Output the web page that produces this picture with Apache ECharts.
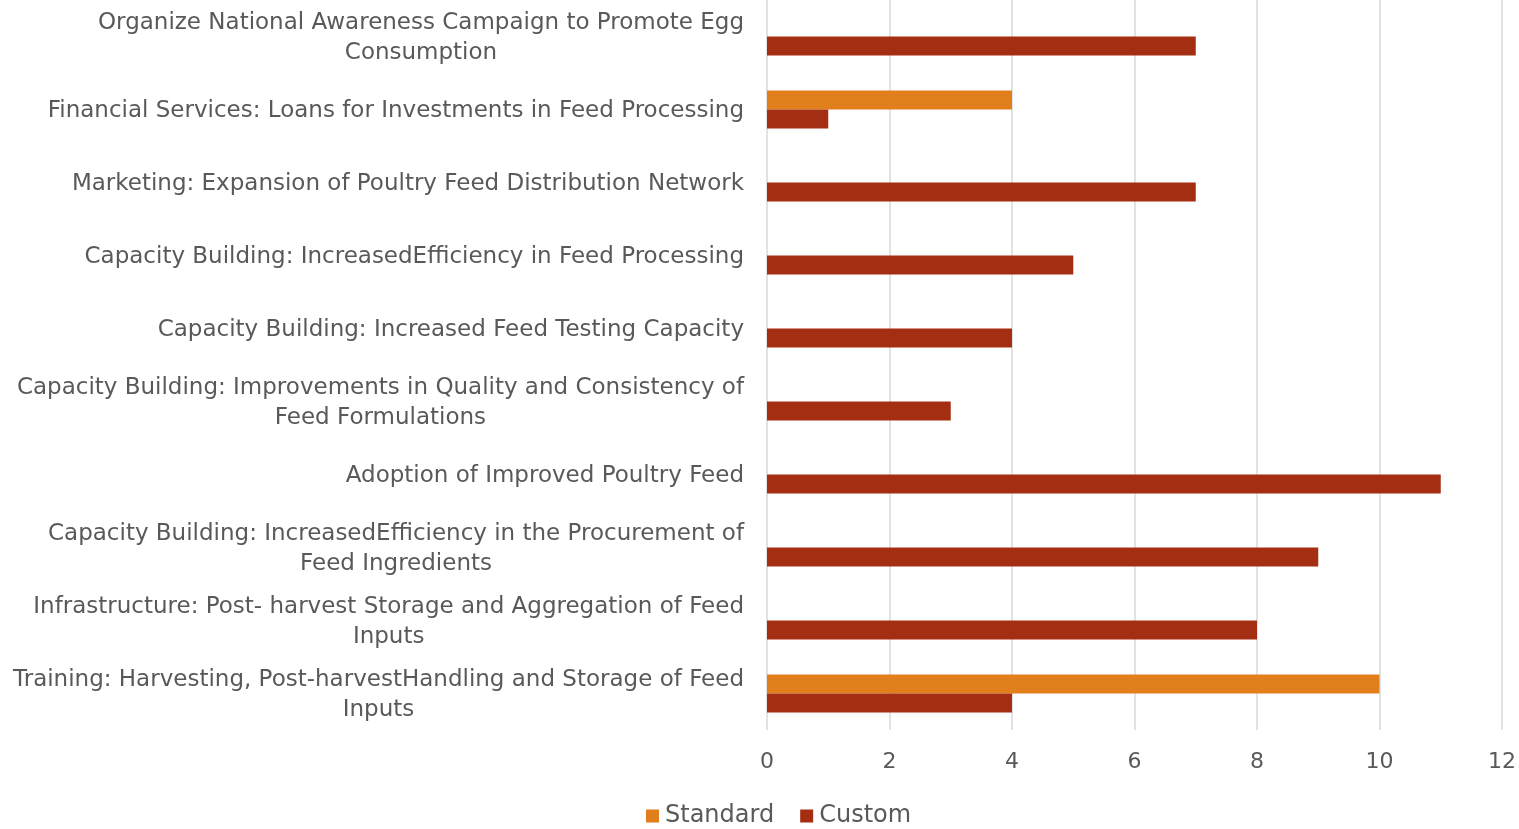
<!DOCTYPE html>
<html>
<head>
<meta charset="utf-8">
<title>Feed interventions</title>
<script src="https://cdn.jsdelivr.net/npm/echarts@6/dist/echarts.min.js"></script>
<style>
  html, body { margin: 0; padding: 0; background: #fff; }
  #chart { width: 1519px; height: 829px; }
</style>
</head>
<body>
<div id="chart"></div>
<script>
// categories, bottom to top (as on the y axis)
const categories = [
  'Training: Harvesting, Post-harvestHandling and Storage of Feed\nInputs',
  'Infrastructure: Post- harvest Storage and Aggregation of Feed\nInputs',
  'Capacity Building: IncreasedEfficiency in the Procurement of\nFeed Ingredients',
  'Adoption of Improved Poultry Feed',
  'Capacity Building: Improvements in Quality and Consistency of\nFeed Formulations',
  'Capacity Building: Increased Feed Testing Capacity',
  'Capacity Building: IncreasedEfficiency in Feed Processing',
  'Marketing: Expansion of Poultry Feed Distribution Network',
  'Financial Services: Loans for Investments in Feed Processing',
  'Organize National Awareness Campaign to Promote Egg\nConsumption'
];
const standardValues = [10, null, null, null, null, null, null, null, 4, null];
const customValues = [4, 8, 9, 11, 3, 4, 5, 7, 1, 7];
const xTicks = { min: 0, max: 12, interval: 2 };

const fontFamily = '"DejaVu Sans", sans-serif';
const textColor = '#595959';

const chart = echarts.init(document.getElementById('chart'));
chart.setOption({
  animation: false,
  textStyle: { fontFamily: fontFamily },
  grid: { left: 767, right: 17, top: 0, bottom: 99, containLabel: false },
  legend: {
    bottom: -4,
    left: 641,
    itemWidth: 13,
    itemHeight: 13,
    itemGap: 26,
    icon: 'rect',
    textStyle: { fontSize: 24, color: textColor, fontFamily: fontFamily, padding: [0, 0, 0, 1] },
    data: ['Standard', 'Custom']
  },
  xAxis: {
    type: 'value',
    min: xTicks.min,
    max: xTicks.max,
    interval: xTicks.interval,
    axisLine: { show: false },
    axisTick: { show: false },
    axisLabel: { fontSize: 22, color: textColor, margin: 21, fontFamily: fontFamily },
    splitLine: { lineStyle: { color: '#d9d9d9', width: 1.5 } }
  },
  yAxis: {
    type: 'category',
    data: categories,
    axisLine: { show: false },
    axisTick: { show: false },
    axisLabel: {
      fontSize: 23,
      color: textColor,
      margin: 23,
      align: 'right',
      lineHeight: 30,
      fontFamily: fontFamily,
      formatter: function (v) {
        // center each line of the wrapped labels
        return v.split('\n').map(function (s) { return '{a|' + s + '}'; }).join('\n');
      },
      rich: {
        a: { fontSize: 23, color: textColor, align: 'center', lineHeight: 30, fontFamily: fontFamily, padding: [3, 0, 0, 0] }
      }
    }
  },
  series: [
    {
      name: 'Standard',
      type: 'bar',
      data: standardValues,
      barWidth: 19,
      barGap: '0%',
      itemStyle: { color: '#E07F1B' }
    },
    {
      name: 'Custom',
      type: 'bar',
      data: customValues,
      barWidth: 19,
      barGap: '0%',
      itemStyle: { color: '#A32E11' }
    }
  ]
});
</script>
</body>
</html>
